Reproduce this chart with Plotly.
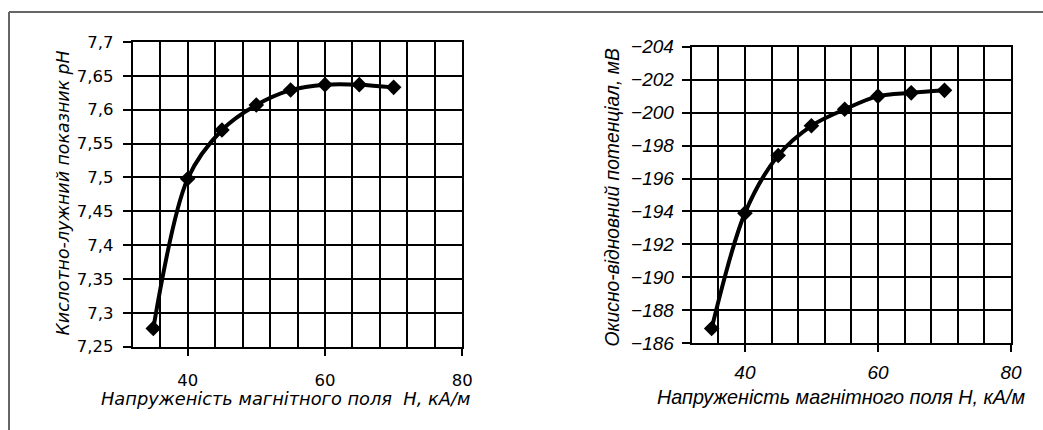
import plotly.graph_objects as go

H = [35, 40, 45, 50, 55, 60, 65, 70]
pH = [7.277, 7.498, 7.570, 7.607, 7.629, 7.637, 7.637, 7.633]
ORP = [-186.9, -193.9, -197.4, -199.2, -200.2, -201.0, -201.2, -201.35]

x_ticks = [40, 60, 80]
left_title_x = "Напруженість магнітного поля  Н, кА/м"
right_title_x = "Напруженість магнітного поля Н, кА/м"
left_title_y = "Кислотно-лужний показник рН"
right_title_y = "Окисно-відновний потенціал, мВ"

W, Hh = 1043, 430
fig = go.Figure()

line_style = dict(color="black", width=4, shape="spline", smoothing=0.9)
marker_style = dict(symbol="diamond", size=12, color="black")

fig.add_trace(go.Scatter(x=H, y=pH, mode="lines+markers", line=line_style,
                         marker=marker_style, xaxis="x", yaxis="y", showlegend=False))
fig.add_trace(go.Scatter(x=H, y=ORP, mode="lines+markers", line=line_style,
                         marker=marker_style, xaxis="x2", yaxis="y2", showlegend=False))

def px_x(p):
    return p / W

def px_y(p):
    return 1 - p / Hh

left_font = dict(family="DejaVu Sans", size=16.5, color="black")
right_font = dict(family="Liberation Sans", size=19, color="black", style="italic")

def xaxis(domain, anchor, font, standoff):
    return dict(domain=domain, anchor=anchor, range=[32, 80], tickvals=x_ticks,
                showgrid=True, gridcolor="black", gridwidth=1.6,
                minor=dict(tick0=32, dtick=4, showgrid=True, gridcolor="black",
                           gridwidth=1.6, ticks=""),
                ticks="outside", ticklen=7, tickwidth=1.6, tickcolor="black",
                showline=True, linecolor="black", linewidth=2, mirror=True,
                zeroline=False, tickfont=font, ticklabelstandoff=standoff,
                automargin=False, fixedrange=True)

def yaxis(domain, anchor, rng, dtick, font, standoff):
    return dict(domain=domain, anchor=anchor, range=rng, dtick=dtick,
                showgrid=True, gridcolor="black", gridwidth=1.6,
                ticks="outside", ticklen=8, tickwidth=1.6, tickcolor="black",
                showline=True, linecolor="black", linewidth=2, mirror=True,
                zeroline=False, tickfont=font, ticklabelstandoff=standoff,
                automargin=False, fixedrange=True)

fig.update_layout(
    width=W, height=Hh,
    margin=dict(l=0, r=0, t=0, b=0),
    paper_bgcolor="white", plot_bgcolor="white",
    separators=", ",
    xaxis=xaxis([px_x(132.7), px_x(462.3)], "y", left_font, 10),
    yaxis=yaxis([px_y(346.7), px_y(42)], "x", [7.25, 7.7], 0.05, left_font, 6),
    xaxis2=xaxis([px_x(691.7), px_x(1011)], "y2", right_font, 4),
    yaxis2=yaxis([px_y(343.3), px_y(46.7)], "x2", [-186, -204], 2, right_font, 4),
)

ann = [
    dict(text=left_title_x, x=px_x(285.5), y=px_y(398), font=dict(family="DejaVu Sans", size=17.8, color="black", style="italic"), textangle=0),
    dict(text=right_title_x, x=px_x(841), y=px_y(397), font=dict(family="Liberation Sans", size=19.8, color="black", style="italic"), textangle=0),
    dict(text=left_title_y, x=px_x(63), y=px_y(193.5), font=dict(family="DejaVu Sans", size=17.4, color="black", style="italic"), textangle=-90),
    dict(text=right_title_y, x=px_x(612), y=px_y(197.5), font=dict(family="Liberation Sans", size=19.3, color="black", style="italic"), textangle=-90),
]
for a in ann:
    fig.add_annotation(xref="paper", yref="paper", showarrow=False,
                       xanchor="center", yanchor="middle", **a)

border = dict(color="#666666", width=2)
fig.add_shape(type="line", xref="paper", yref="paper", x0=px_x(9), x1=px_x(9),
              y0=0, y1=px_y(12), line=border)
fig.add_shape(type="line", xref="paper", yref="paper", x0=px_x(9), x1=1,
              y0=px_y(12), y1=px_y(12), line=border)

fig.write_html("out.html")
